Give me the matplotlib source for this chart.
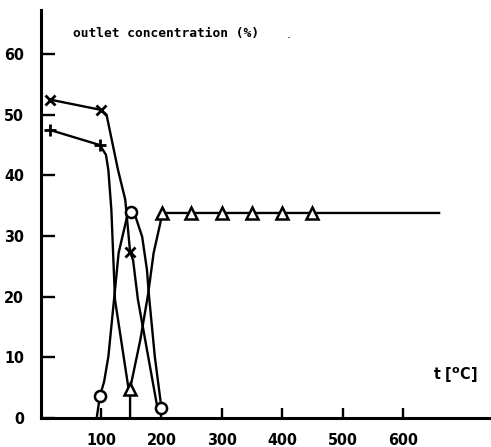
import matplotlib
matplotlib.use("Agg")
import matplotlib.pyplot as plt
from matplotlib import font_manager

# marked points
cross_t = [15, 100, 148]
cross_c = [52.5, 50.8, 27.4]
plus_t = [15, 98]
plus_c = [47.5, 45.0]
circle_t = [98, 150, 200]
circle_c = [3.6, 34.0, 1.6]
tri_t = [148, 201, 249, 300, 350, 400, 449]
tri_c = [4.8, 33.8, 33.8, 33.8, 33.8, 33.8, 33.8]

# hand-drawn curves through the points, also
cross_line_t = [15, 100, 109, 128, 140, 148, 153, 161, 194]
cross_line_c = [52.5, 50.8, 50.0, 40.9, 36.0, 27.4, 26.0, 19.5, 1.3]
plus_line_t = [15, 98, 108, 112, 117, 123, 145]
plus_line_c = [47.5, 45.0, 43.4, 40.9, 34.3, 19.5, 5.1]
circle_line_t = [93, 98, 105, 112, 123, 129, 143, 150, 157, 168, 176, 179, 189, 200]
circle_line_c = [0.2, 3.6, 6.0, 10.1, 21.1, 27.2, 33.2, 34.0, 33.2, 29.9, 24.4, 20.5, 10.1, 1.6]
tri_line_t = [148, 148, 165, 178, 187, 198, 201, 660]
tri_line_c = [0.0, 4.8, 12.9, 20.5, 27.2, 32.1, 33.8, 33.8]

xticks = [100, 200, 300, 400, 500, 600]
yticks = [0, 10, 20, 30, 40, 50, 60]

fig = plt.figure(figsize=(4.91, 4.47), dpi=100)
ax = fig.add_axes([0.083, 0.065, 0.917, 0.913])

lw = 1.7
ax.plot(cross_line_t, cross_line_c, 'k', lw=lw)
ax.plot(plus_line_t, plus_line_c, 'k', lw=lw)
ax.plot(circle_line_t, circle_line_c, 'k', lw=lw)
ax.plot(tri_line_t, tri_line_c, 'k', lw=lw)

ax.plot(cross_t, cross_c, 'x', color='k', ms=7, mew=2, mfc='w')
ax.plot(plus_t, plus_c, '+', color='k', ms=9, mew=2)
ax.plot(circle_t, circle_c, 'o', color='k', ms=8, mew=1.8, mfc='w')
ax.plot(tri_t, tri_c, '^', color='k', ms=9, mew=1.8, mfc='w')

ax.set_xlim(0, 746)
ax.set_ylim(0, 67.3)
ax.set_xticks(xticks)
ax.set_yticks(yticks)
ax.set_xticklabels([str(v) for v in xticks])
ax.set_yticklabels([str(v) for v in yticks])

narrow = font_manager.FontProperties(family='DejaVu Sans', stretch='condensed',
                                     weight='bold', size=11.5)
for t in ax.get_xticklabels() + ax.get_yticklabels():
    t.set_fontproperties(narrow)

ax.tick_params(axis='y', direction='in', length=10, width=1.7, pad=12)
ax.tick_params(axis='x', direction='in', length=7, width=1.7, pad=11)

for s in ['top', 'right']:
    ax.spines[s].set_visible(False)
for s in ['left', 'bottom']:
    ax.spines[s].set_linewidth(2.2)

ax.text(0.071, 0.942, "outlet concentration (%)", transform=ax.transAxes,
        family=['DejaVu Sans Mono'], weight='bold', size=9.3, va='center')
ax.text(0.545, 0.94, ".", transform=ax.transAxes, size=9, va='center')
ax.text(0.872, 0.105, r"t [$^{\mathbf{o}}$C]", transform=ax.transAxes,
        fontproperties=narrow, va='center')

plt.savefig('out.png', dpi=100)
